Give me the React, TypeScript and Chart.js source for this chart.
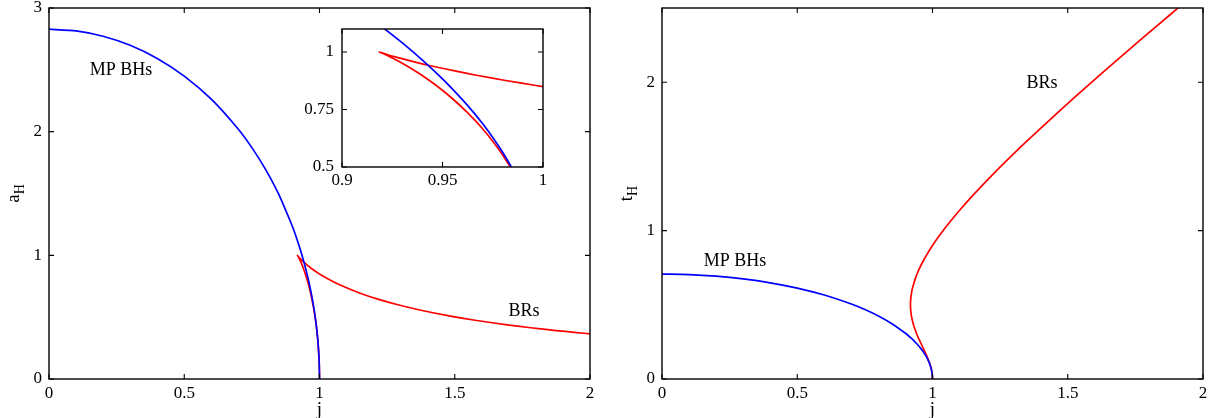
import React, { useEffect, useRef } from "react";
import { Chart, registerables } from "chart.js";

Chart.register(...registerables);

// ---- Data ----
// Myers–Perry black holes: spin j, horizon area a_H, temperature t_H
const mpJ = [0, 0.1, 0.2, 0.3, 0.4, 0.5, 0.6, 0.7, 0.75, 0.8, 0.85, 0.9, 0.91, 0.92, 0.93, 0.94, 0.95, 0.96, 0.965, 0.97, 0.975, 0.98, 0.985, 0.99, 0.995, 0.999, 1];
const mpA = [2.8284, 2.8143, 2.7713, 2.6981, 2.5923, 2.4495, 2.2627, 2.0199, 1.8708, 1.6971, 1.49, 1.2329, 1.1727, 1.1085, 1.0396, 0.965, 0.8832, 0.792, 0.7418, 0.6876, 0.6285, 0.5628, 0.4881, 0.399, 0.2825, 0.1265, 0];
const mpT = [0.7071, 0.7036, 0.6928, 0.6745, 0.6481, 0.6124, 0.5657, 0.505, 0.4677, 0.4243, 0.3725, 0.3082, 0.2932, 0.2771, 0.2599, 0.2412, 0.2208, 0.198, 0.1854, 0.1719, 0.1571, 0.1407, 0.122, 0.0998, 0.0706, 0.0316, 0];

// Black rings (fat branch from j=1 up to the cusp, then thin branch outward)
const brJ = [1, 0.99975, 0.99875, 0.99751, 0.99504, 0.99016, 0.98536, 0.98065, 0.97603, 0.9693, 0.96281, 0.95459, 0.94693, 0.9399, 0.93361, 0.92818, 0.92376, 0.92199, 0.91997, 0.9188, 0.91856, 0.91881, 0.92024, 0.92313, 0.92601, 0.93739, 0.94401, 0.95677, 0.96759, 0.98067, 0.99651, 1.01574, 1.05293, 1.10429, 1.15013, 1.20974, 1.28986, 1.37054, 1.47905, 1.57521, 1.7012, 1.78042, 1.87489, 1.94099, 2.01603];
const brA = [0, 0.0632, 0.1411, 0.199, 0.28, 0.3919, 0.475, 0.5426, 0.6, 0.6726, 0.7332, 0.8, 0.8542, 0.898, 0.933, 0.96, 0.9798, 0.9871, 0.995, 0.9992, 1, 0.9992, 0.995, 0.9871, 0.9798, 0.9539, 0.9404, 0.9165, 0.898, 0.8773, 0.8542, 0.8285, 0.7846, 0.7332, 0.694, 0.6499, 0.6, 0.5578, 0.5103, 0.475, 0.4359, 0.4146, 0.3919, 0.3775, 0.3625];
const brT = [0, 0.0158, 0.0354, 0.0503, 0.0714, 0.1021, 0.1263, 0.1474, 0.1667, 0.1933, 0.2182, 0.25, 0.281, 0.3118, 0.343, 0.375, 0.4082, 0.4255, 0.4523, 0.4804, 0.5, 0.5204, 0.5528, 0.5876, 0.6124, 0.6814, 0.7124, 0.7638, 0.8018, 0.8435, 0.8898, 0.9415, 1.0324, 1.1456, 1.2392, 1.354, 1.5, 1.6405, 1.8225, 1.9791, 2.1795, 2.3034, 2.4495, 2.5508, 2.6651];

// Tick values
const jTicks = [0, 0.5, 1, 1.5, 2];
const aTicks = [0, 1, 2, 3];
const tTicks = [0, 1, 2];
const insetJTicks = [0.9, 0.95, 1];
const insetATicks = [0.5, 0.75, 1];

// Annotations (data coordinates)
const leftLabels = [
  { text: "MP BHs", x: 0.266, y: 2.5 },
  { text: "BRs", x: 1.756, y: 0.55 },
];
const rightLabels = [
  { text: "MP BHs", x: 0.27, y: 0.795 },
  { text: "BRs", x: 1.405, y: 1.995 },
];

const BLUE = "#0000ff";
const RED = "#ff0000";
const FAMILY = "'Liberation Serif', 'Times New Roman', serif";

const toPts = (xs: number[], ys: number[]) => xs.map((x, i) => ({ x, y: ys[i] }));

const framePlugin = {
  id: "frame",
  afterDraw(chart: any, _args: any, opts: any) {
    const { ctx, chartArea: ca } = chart;
    const xs = chart.scales.x;
    const ys = chart.scales.y;
    ctx.save();
    ctx.strokeStyle = "#000";
    ctx.lineWidth = 1.4;
    ctx.strokeRect(ca.left, ca.top, ca.right - ca.left, ca.bottom - ca.top);
    const L = opts.tickLen || 5;
    ctx.lineWidth = 1.1;
    ctx.beginPath();
    xs.ticks.forEach((t: any) => {
      const px = xs.getPixelForValue(t.value);
      ctx.moveTo(px, ca.bottom);
      ctx.lineTo(px, ca.bottom - L);
      ctx.moveTo(px, ca.top);
      ctx.lineTo(px, ca.top + L);
    });
    ys.ticks.forEach((t: any) => {
      const py = ys.getPixelForValue(t.value);
      ctx.moveTo(ca.left, py);
      ctx.lineTo(ca.left + L, py);
      ctx.moveTo(ca.right, py);
      ctx.lineTo(ca.right - L, py);
    });
    ctx.stroke();

    ctx.fillStyle = "#000";
    (opts.labels || []).forEach((l: any) => {
      ctx.font = `18px ${FAMILY}`;
      ctx.textAlign = "center";
      ctx.textBaseline = "middle";
      ctx.fillText(l.text, xs.getPixelForValue(l.x), ys.getPixelForValue(l.y));
    });

    if (opts.xTitle) {
      ctx.font = `19px ${FAMILY}`;
      ctx.textAlign = "center";
      ctx.textBaseline = "alphabetic";
      ctx.fillText(opts.xTitle, (ca.left + ca.right) / 2, ca.bottom + 36);
    }
    if (opts.yTitle) {
      const [main, sub] = opts.yTitle;
      ctx.translate(ca.left - 30, (ca.top + ca.bottom) / 2);
      ctx.rotate(-Math.PI / 2);
      ctx.textAlign = "left";
      ctx.textBaseline = "alphabetic";
      ctx.font = `19px ${FAMILY}`;
      const w1 = ctx.measureText(main).width;
      ctx.font = `14px ${FAMILY}`;
      const w2 = ctx.measureText(sub).width;
      const start = -(w1 + w2) / 2;
      ctx.font = `19px ${FAMILY}`;
      ctx.fillText(main, start, 0);
      ctx.font = `14px ${FAMILY}`;
      ctx.fillText(sub, start + w1, 5);
    }
    ctx.restore();
  },
};

type Cfg = {
  series: { xs: number[]; ys: number[]; color: string }[];
  xMin: number; xMax: number; yMin: number; yMax: number;
  xTicks: number[]; yTicks: number[];
  yWidth: number; xHeight: number;
  padding: { top: number; right: number; bottom: number; left: number };
  xPad: number; yPad: number;
  labels?: any[]; xTitle?: string; yTitle?: [string, string];
};

function makeConfig(c: Cfg): any {
  const font = { family: FAMILY, size: 17 };
  return {
    type: "scatter",
    data: {
      datasets: c.series.map((s) => ({
        data: toPts(s.xs, s.ys),
        showLine: true,
        borderColor: s.color,
        backgroundColor: s.color,
        borderWidth: 1.7,
        pointRadius: 0,
        tension: 0.2,
      })),
    },
    plugins: [framePlugin],
    options: {
      animation: false,
      responsive: false,
      layout: { padding: c.padding },
      plugins: {
        legend: { display: false },
        tooltip: { enabled: false },
        frame: { labels: c.labels || [], xTitle: c.xTitle, yTitle: c.yTitle, tickLen: 5 },
      },
      scales: {
        x: {
          type: "linear",
          min: c.xMin,
          max: c.xMax,
          afterBuildTicks: (s: any) => { s.ticks = c.xTicks.map((v) => ({ value: v })); },
          afterFit: (s: any) => { s.height = c.xHeight; },
          grid: { display: false, drawTicks: false },
          border: { display: false },
          ticks: { font, color: "#000", padding: c.xPad, maxRotation: 0, autoSkip: false, callback: (v: any) => String(v) },
        },
        y: {
          type: "linear",
          min: c.yMin,
          max: c.yMax,
          afterBuildTicks: (s: any) => { s.ticks = c.yTicks.map((v) => ({ value: v })); },
          afterFit: (s: any) => { s.width = c.yWidth; },
          grid: { display: false, drawTicks: false },
          border: { display: false },
          ticks: { font, color: "#000", padding: c.yPad, autoSkip: false, callback: (v: any) => String(v) },
        },
      },
    },
  };
}

function ChartBox({ cfg, left, top, width, height }: { cfg: Cfg; left: number; top: number; width: number; height: number }) {
  const ref = useRef<HTMLCanvasElement>(null);
  useEffect(() => {
    const chart = new Chart(ref.current as HTMLCanvasElement, makeConfig(cfg));
    return () => chart.destroy();
  }, []);
  return (
    <canvas
      ref={ref}
      width={width}
      height={height}
      style={{ position: "absolute", left, top, width, height, display: "block" }}
    />
  );
}

const leftCfg: Cfg = {
  series: [
    { xs: mpJ, ys: mpA, color: BLUE },
    { xs: brJ, ys: brA, color: RED },
  ],
  xMin: 0, xMax: 2, yMin: 0, yMax: 3,
  xTicks: jTicks, yTicks: aTicks,
  yWidth: 49, xHeight: 39,
  padding: { top: 38, right: 30, bottom: 0, left: 0 },
  xPad: 4, yPad: 7,
  labels: leftLabels, xTitle: "j", yTitle: ["a", "H"],
};

const rightCfg: Cfg = {
  series: [
    { xs: mpJ, ys: mpT, color: BLUE },
    { xs: brJ, ys: brT, color: RED },
  ],
  xMin: 0, xMax: 2, yMin: 0, yMax: 2.5,
  xTicks: jTicks, yTicks: tTicks,
  yWidth: 49, xHeight: 39,
  padding: { top: 38, right: 14, bottom: 0, left: 0 },
  xPad: 4, yPad: 7,
  labels: rightLabels, xTitle: "j", yTitle: ["t", "H"],
};

const insetCfg: Cfg = {
  series: [
    { xs: mpJ, ys: mpA, color: BLUE },
    { xs: brJ, ys: brA, color: RED },
  ],
  xMin: 0.9, xMax: 1, yMin: 0.5, yMax: 1.1,
  xTicks: insetJTicks, yTicks: insetATicks,
  yWidth: 52, xHeight: 32,
  padding: { top: 20, right: 17, bottom: 0, left: 0 },
  xPad: 3, yPad: 8,
};

export default function App() {
  return (
    <div style={{ position: "absolute", left: 0, top: 0, width: 1217, height: 418, background: "#fff", overflow: "hidden" }}>
      <ChartBox cfg={leftCfg} left={0} top={-30} width={620} height={448} />
      <ChartBox cfg={rightCfg} left={613} top={-30} width={604} height={448} />
      <ChartBox cfg={insetCfg} left={290} top={9} width={270} height={190} />
    </div>
  );
}
